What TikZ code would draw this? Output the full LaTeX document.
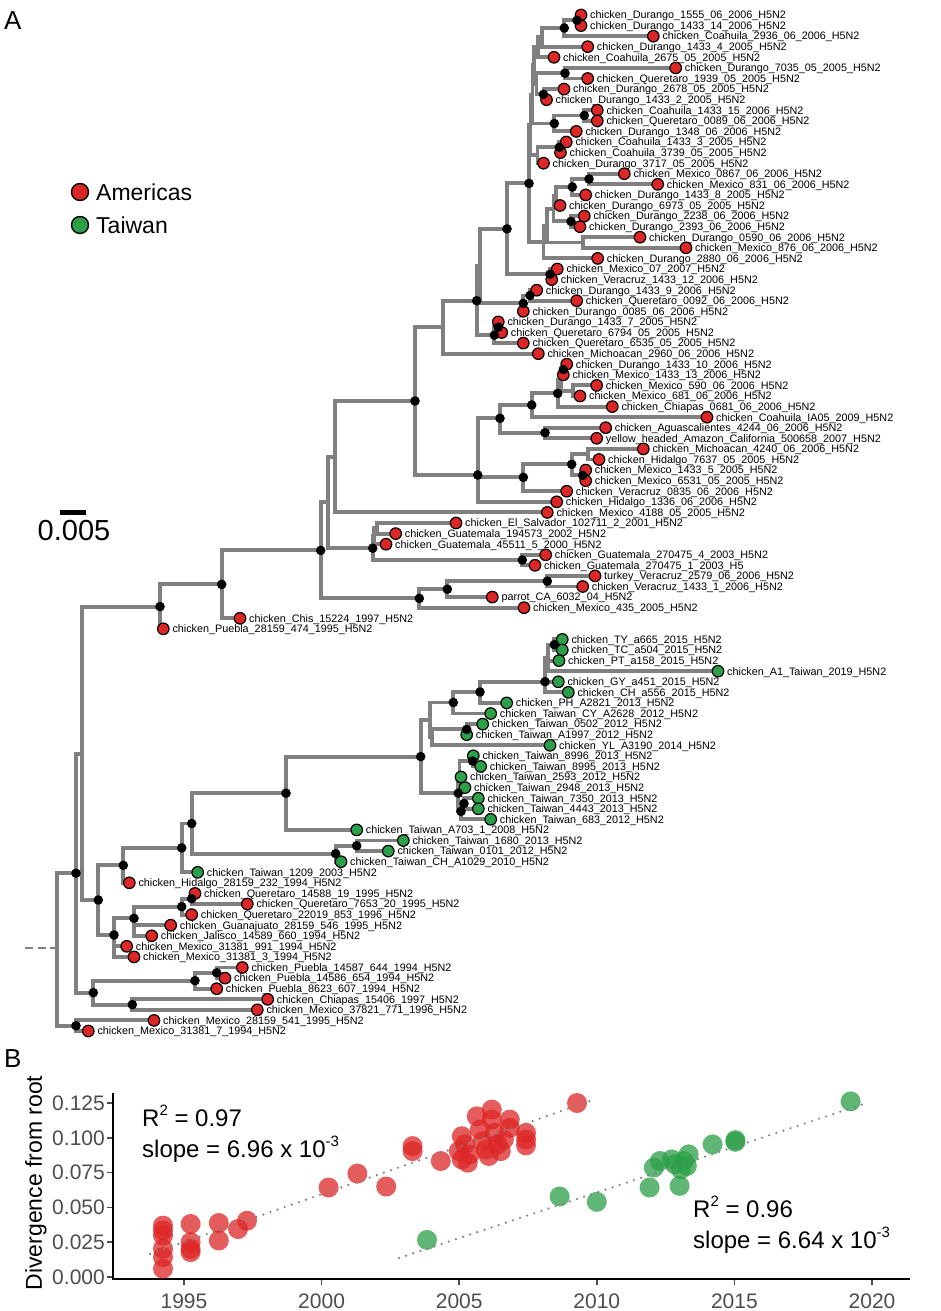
\documentclass[tikz,border=0pt]{standalone}
\usepackage{fontspec}
\setmainfont{Liberation Sans}
\usetikzlibrary{backgrounds}
\definecolor{amr}{RGB}{221,38,38}
\definecolor{twn}{RGB}{44,160,72}
\definecolor{brc}{RGB}{128,128,128}
\definecolor{tickc}{RGB}{77,77,77}
\tikzset{
 branch/.style={draw=brc, line width=3.9pt, line join=miter},
 leafR/.style={circle, draw=black, fill=amr, line width=1.2pt, minimum size=11.5pt, inner sep=0pt},
 leafG/.style={leafR, fill=twn},
 lab/.style={anchor=base west, inner sep=0pt, font=\fontsize{10.8}{12}\selectfont},
 ptR/.style={fill=amr, fill opacity=0.75},
 ptG/.style={fill=twn, fill opacity=0.75},
 regline/.style={draw=brc, line width=2.4pt, line cap=round, dash pattern=on 0pt off 7.5pt},
 ticklab/.style={text=tickc, font=\fontsize{21}{24}\selectfont, inner sep=0pt},
 annot/.style={anchor=base west, inner sep=0pt, font=\fontsize{24}{28}\selectfont}
}
\newcommand\LR[4]{\node[leafR] (#1) at (#2,#3) {}; \node[lab] (#1t) at (#2+9,#3+3.8) {#4};}
\newcommand\LG[4]{\node[leafG] (#1) at (#2,#3) {}; \node[lab] (#1t) at (#2+9,#3+3.8) {#4};}
\newcommand\brs[2]{\foreach \c in {#2} {\draw[branch] (#1) |- (\c.center);}}
\newcommand\supx[1]{\raisebox{0.42em}{\fontsize{15}{15}\selectfont #1}}
\begin{document}
\begin{tikzpicture}[x=1pt,y=-1pt]
\useasboundingbox (0,0) rectangle (941,1311);
% ---------- leaves ----------
\LR{L1}{581}{15.0}{chicken\_Durango\_1555\_06\_2006\_H5N2}
\LR{L2}{581}{25.6}{chicken\_Durango\_1433\_14\_2006\_H5N2}
\LR{L3}{653.3}{36.2}{chicken\_Coahuila\_2936\_06\_2006\_H5N2}
\LR{L4}{587.7}{46.7}{chicken\_Durango\_1433\_4\_2005\_H5N2}
\LR{L5}{554}{57.3}{chicken\_Coahuila\_2675\_05\_2005\_H5N2}
\LR{L6}{675.7}{67.9}{chicken\_Durango\_7035\_05\_2005\_H5N2}
\LR{L7}{587.7}{78.5}{chicken\_Queretaro\_1939\_05\_2005\_H5N2}
\LR{L8}{564}{89.1}{chicken\_Durango\_2678\_05\_2005\_H5N2}
\LR{L9}{546.5}{99.7}{chicken\_Durango\_1433\_2\_2005\_H5N2}
\LR{L10}{597.3}{110.2}{chicken\_Coahuila\_1433\_15\_2006\_H5N2}
\LR{L11}{597.3}{120.8}{chicken\_Queretaro\_0089\_06\_2006\_H5N2}
\LR{L12}{576.3}{131.4}{chicken\_Durango\_1348\_06\_2006\_H5N2}
\LR{L13}{566.3}{142.0}{chicken\_Coahuila\_1433\_3\_2005\_H5N2}
\LR{L14}{560.5}{152.6}{chicken\_Coahuila\_3739\_05\_2005\_H5N2}
\LR{L15}{543.5}{163.2}{chicken\_Durango\_3717\_05\_2005\_H5N2}
\LR{L16}{624.3}{173.7}{chicken\_Mexico\_0867\_06\_2006\_H5N2}
\LR{L17}{657.7}{184.3}{chicken\_Mexico\_831\_06\_2006\_H5N2}
\LR{L18}{585.7}{194.9}{chicken\_Durango\_1433\_8\_2005\_H5N2}
\LR{L19}{560}{205.5}{chicken\_Durango\_6973\_05\_2005\_H5N2}
\LR{L20}{584.3}{216.1}{chicken\_Durango\_2238\_06\_2006\_H5N2}
\LR{L21}{580}{226.7}{chicken\_Durango\_2393\_06\_2006\_H5N2}
\LR{L22}{640}{237.2}{chicken\_Durango\_0590\_06\_2006\_H5N2}
\LR{L23}{686}{247.8}{chicken\_Mexico\_876\_06\_2006\_H5N2}
\LR{L24}{597.7}{258.4}{chicken\_Durango\_2880\_06\_2006\_H5N2}
\LR{L25}{557.3}{269.0}{chicken\_Mexico\_07\_2007\_H5N2}
\LR{L26}{551.7}{279.6}{chicken\_Veracruz\_1433\_12\_2006\_H5N2}
\LR{L27}{536.7}{290.2}{chicken\_Durango\_1433\_9\_2006\_H5N2}
\LR{L28}{576.7}{300.7}{chicken\_Queretaro\_0092\_06\_2006\_H5N2}
\LR{L29}{523.3}{311.3}{chicken\_Durango\_0085\_06\_2006\_H5N2}
\LR{L30}{498.3}{321.9}{chicken\_Durango\_1433\_7\_2005\_H5N2}
\LR{L31}{501.7}{332.5}{chicken\_Queretaro\_6794\_05\_2005\_H5N2}
\LR{L32}{523.3}{343.1}{chicken\_Queretaro\_6535\_05\_2005\_H5N2}
\LR{L33}{538.3}{353.7}{chicken\_Michoacan\_2960\_06\_2006\_H5N2}
\LR{L34}{566.7}{364.2}{chicken\_Durango\_1433\_10\_2006\_H5N2}
\LR{L35}{563.3}{374.8}{chicken\_Mexico\_1433\_13\_2006\_H5N2}
\LR{L36}{596.7}{385.4}{chicken\_Mexico\_590\_06\_2006\_H5N2}
\LR{L37}{580}{396.0}{chicken\_Mexico\_681\_06\_2006\_H5N2}
\LR{L38}{612.3}{406.6}{chicken\_Chiapas\_0681\_06\_2006\_H5N2}
\LR{L39}{707}{417.2}{chicken\_Coahuila\_IA05\_2009\_H5N2}
\LR{L40}{605.7}{427.7}{chicken\_Aguascalientes\_4244\_06\_2006\_H5N2}
\LR{L41}{596.7}{438.3}{yellow\_headed\_Amazon\_California\_500658\_2007\_H5N2}
\LR{L42}{643.3}{448.9}{chicken\_Michoacan\_4240\_06\_2006\_H5N2}
\LR{L43}{599}{459.5}{chicken\_Hidalgo\_7637\_05\_2005\_H5N2}
\LR{L44}{585.7}{470.1}{chicken\_Mexico\_1433\_5\_2005\_H5N2}
\LR{L45}{585.7}{480.7}{chicken\_Mexico\_6531\_05\_2005\_H5N2}
\LR{L46}{566.7}{491.2}{chicken\_Veracruz\_0835\_06\_2006\_H5N2}
\LR{L47}{556.7}{501.8}{chicken\_Hidalgo\_1336\_06\_2006\_H5N2}
\LR{L48}{547.3}{512.4}{chicken\_Mexico\_4188\_05\_2005\_H5N2}
\LR{L49}{456}{523.0}{chicken\_El\_Salvador\_102711\_2\_2001\_H5N2}
\LR{L50}{395.7}{533.6}{chicken\_Guatemala\_194573\_2002\_H5N2}
\LR{L51}{386}{544.2}{chicken\_Guatemala\_45511\_5\_2000\_H5N2}
\LR{L52}{545.7}{554.8}{chicken\_Guatemala\_270475\_4\_2003\_H5N2}
\LR{L53}{535}{565.3}{chicken\_Guatemala\_270475\_1\_2003\_H5}
\LR{L54}{595}{575.9}{turkey\_Veracruz\_2579\_06\_2006\_H5N2}
\LR{L55}{582.7}{586.5}{chicken\_Veracruz\_1433\_1\_2006\_H5N2}
\LR{L56}{492.3}{597.1}{parrot\_CA\_6032\_04\_H5N2}
\LR{L57}{524}{607.7}{chicken\_Mexico\_435\_2005\_H5N2}
\LR{L58}{240}{618.3}{chicken\_Chis\_15224\_1997\_H5N2}
\LR{L59}{163.3}{628.8}{chicken\_Puebla\_28159\_474\_1995\_H5N2}
\LG{L60}{562.3}{639.4}{chicken\_TY\_a665\_2015\_H5N2}
\LG{L61}{562.3}{650.0}{chicken\_TC\_a504\_2015\_H5N2}
\LG{L62}{559}{660.6}{chicken\_PT\_a158\_2015\_H5N2}
\LG{L63}{718}{671.2}{chicken\_A1\_Taiwan\_2019\_H5N2}
\LG{L64}{558.3}{681.8}{chicken\_GY\_a451\_2015\_H5N2}
\LG{L65}{568.3}{692.3}{chicken\_CH\_a556\_2015\_H5N2}
\LG{L66}{506.7}{702.9}{chicken\_PH\_A2821\_2013\_H5N2}
\LG{L67}{490.7}{713.5}{chicken\_Taiwan\_CY\_A2628\_2012\_H5N2}
\LG{L68}{482.7}{724.1}{chicken\_Taiwan\_0502\_2012\_H5N2}
\LG{L69}{466.7}{734.7}{chicken\_Taiwan\_A1997\_2012\_H5N2}
\LG{L70}{550}{745.3}{chicken\_YL\_A3190\_2014\_H5N2}
\LG{L71}{473.3}{755.8}{chicken\_Taiwan\_8996\_2013\_H5N2}
\LG{L72}{480.7}{766.4}{chicken\_Taiwan\_8995\_2013\_H5N2}
\LG{L73}{461}{777.0}{chicken\_Taiwan\_2593\_2012\_H5N2}
\LG{L74}{465}{787.6}{chicken\_Taiwan\_2948\_2013\_H5N2}
\LG{L75}{478.3}{798.2}{chicken\_Taiwan\_7350\_2013\_H5N2}
\LG{L76}{478.3}{808.8}{chicken\_Taiwan\_4443\_2013\_H5N2}
\LG{L77}{490.7}{819.3}{chicken\_Taiwan\_683\_2012\_H5N2}
\LG{L78}{356.7}{829.9}{chicken\_Taiwan\_A703\_1\_2008\_H5N2}
\LG{L79}{403.3}{840.5}{chicken\_Taiwan\_1680\_2013\_H5N2}
\LG{L80}{388.3}{851.1}{chicken\_Taiwan\_0101\_2012\_H5N2}
\LG{L81}{341}{861.7}{chicken\_Taiwan\_CH\_A1029\_2010\_H5N2}
\LG{L82}{197.7}{872.3}{chicken\_Taiwan\_1209\_2003\_H5N2}
\LR{L83}{129.3}{882.8}{chicken\_Hidalgo\_28159\_232\_1994\_H5N2}
\LR{L84}{195}{893.4}{chicken\_Queretaro\_14588\_19\_1995\_H5N2}
\LR{L85}{247.3}{904.0}{chicken\_Queretaro\_7653\_20\_1995\_H5N2}
\LR{L86}{191.7}{914.6}{chicken\_Queretaro\_22019\_853\_1996\_H5N2}
\LR{L87}{170.7}{925.2}{chicken\_Guanajuato\_28159\_546\_1995\_H5N2}
\LR{L88}{151.7}{935.8}{chicken\_Jalisco\_14589\_660\_1994\_H5N2}
\LR{L89}{126.7}{946.3}{chicken\_Mexico\_31381\_991\_1994\_H5N2}
\LR{L90}{134}{956.9}{chicken\_Mexico\_31381\_3\_1994\_H5N2}
\LR{L91}{242.3}{967.5}{chicken\_Puebla\_14587\_644\_1994\_H5N2}
\LR{L92}{225}{978.1}{chicken\_Puebla\_14586\_654\_1994\_H5N2}
\LR{L93}{216.7}{988.7}{chicken\_Puebla\_8623\_607\_1994\_H5N2}
\LR{L94}{267.7}{999.3}{chicken\_Chiapas\_15406\_1997\_H5N2}
\LR{L95}{257.3}{1009.8}{chicken\_Mexico\_37821\_771\_1996\_H5N2}
\LR{L96}{154}{1020.4}{chicken\_Mexico\_28159\_541\_1995\_H5N2}
\LR{L97}{88.3}{1031.0}{chicken\_Mexico\_31381\_7\_1994\_H5N2}
% ---------- internal nodes ----------
\foreach \n/\x/\y in {A1/577/20.3, A2/564.3/28, A3/541.7/37.3, A4/538.3/47, B1/565/73.2, B2/543.5/94.4,
 B3/536.5/83.8, H1/534.3/65.4, C1/584.3/115.5, C2/554.3/123.5, H0/532.5/94.5, C3/559.3/147.3,
 H3/537.5/155.2, G/530.5/124.8, D1/589/179, D2/572.3/187, D3/556/196, D4/571/221.4, D5/553.5/208.7,
 E1/582.7/242.5, D6/546.7/225.6, D7/543.5/242, F/529/183.4, I1/550/274.3, J/507/228.9,
 I2/530/295.5, I3/523.3/303.4, K0a/480/266.2, I4/498.3/327.2, I5/494.3/335.2, K0/476.7/300.7,
 M/443.3/327.2, N1/563.3/369.5, N2/573.3/390.7, N3/561/380.1, N4/557.7/393.4, N5/531.7/405,
 N7/545/432.7, N6/500/418.3, N8/588.3/454.2, N9/582.7/475.4, N10/571.7/464.3, N11/523.3/477.3,
 P/477.7/475, Y0/415/401, X3/335/456.6, GT1/377/528.3, GT2/374/536.3, GT3/522.3/560,
 GT/372.7/548.2, X1/328.3/502.4, X5/547.3/581.2, X4/447.3/589.2, X2/419.3/598.4, W/320.7/550.4,
 U1/221.7/584.4, U/160/606.6,
 TWg/554.3/644.7, TWh/548/658, TWf/545/681.7, TWe/480/692, TWa/453.3/702.5, TWc/466.7/729.4,
 TWb1/432/737.3, TWb/430/720, TWi/472.7/761.1, TWd1/459.5/775, TWj/464/803.5, TWk/461/811.4,
 TWd/458.3/793.2, TW0/420.7/756.6, T1c/286/793.2, T1e/356.7/845.8, T1d/335.7/853.7,
 T1b/191.7/823.5, T1a/181.7/847.9, T1/123.3/865.3, T5/191.7/898.7, T4/181.7/906.7,
 T3/134/918.3, T2/114/935, T/98.3/900, S/81.7/753.8, V1a/216.7/972.8, V1/195/980.7,
 V2/132.3/1004.6, V/93.3/992.7, Rt/76/873.2, Rb/76/1025.7, R/57.3/948}
 {\coordinate (\n) at (\x,\y);}
\coordinate (root0) at (25,948);
% ---------- branches ----------
\begin{scope}[on background layer]
\fill[white] (0,0) rectangle (941,1311);
\brs{A1}{L1,L2} \brs{A2}{A1,L3} \brs{A3}{A2,L4} \brs{A4}{A3,L5}
\brs{B1}{L6,L7} \brs{B2}{L8,L9} \brs{B3}{B1,B2} \brs{H1}{A4,B3}
\brs{C1}{L10,L11} \brs{C2}{C1,L12} \brs{H0}{H1,C2} \brs{C3}{L13,L14} \brs{H3}{C3,L15} \brs{G}{H0,H3}
\brs{D1}{L16,L17} \brs{D2}{D1,L18} \brs{D3}{D2,L19} \brs{D4}{L20,L21} \brs{D5}{D3,D4}
\brs{E1}{L22,L23} \brs{D6}{D5,E1} \brs{D7}{D6,L24} \brs{F}{G,D7}
\brs{I1}{L25,L26} \brs{J}{F,I1} \brs{I2}{L27,L28} \brs{I3}{I2,L29} \brs{K0a}{J,I3}
\brs{I4}{L30,L31} \brs{I5}{I4,L32} \brs{K0}{K0a,I5} \brs{M}{K0,L33}
\brs{N1}{L34,L35} \brs{N2}{L36,L37} \brs{N3}{N1,N2} \brs{N4}{N3,L38} \brs{N5}{N4,L39}
\brs{N7}{L40,L41} \brs{N6}{N5,N7} \brs{N8}{L42,L43} \brs{N9}{L44,L45} \brs{N10}{N8,N9}
\brs{N11}{N10,L46} \brs{P}{N6,N11,L47} \brs{Y0}{M,P} \brs{X3}{Y0,L48}
\brs{GT1}{L49,L50} \brs{GT2}{GT1,L51} \brs{GT3}{L52,L53} \brs{GT}{GT2,GT3} \brs{X1}{X3,GT}
\brs{X5}{L54,L55} \brs{X4}{X5,L56} \brs{X2}{X4,L57} \brs{W}{X1,X2} \brs{U1}{W,L58} \brs{U}{U1,L59}
\brs{TWg}{L60,L61} \brs{TWh}{TWg,L62,L63} \brs{TWf}{TWh,L64,L65} \brs{TWe}{TWf,L66}
\brs{TWa}{TWe,L67} \brs{TWc}{L68,L69} \brs{TWb1}{TWc,L70} \brs{TWb}{TWa,TWb1}
\brs{TWi}{L71,L72} \brs{TWd1}{TWi,L73,L74} \brs{TWj}{L75,L76} \brs{TWk}{TWj,L77}
\brs{TWd}{TWd1,TWk} \brs{TW0}{TWb,TWd} \brs{T1c}{TW0,L78}
\brs{T1e}{L79,L80} \brs{T1d}{T1e,L81} \brs{T1b}{T1c,T1d} \brs{T1a}{T1b,L82} \brs{T1}{T1a,L83}
\brs{T5}{L84,L85} \brs{T4}{T5,L86} \brs{T3}{T4,L87,L88} \brs{T2}{T3,L89,L90} \brs{T}{T1,T2}
\brs{S}{U,T} \brs{V1a}{L91,L92} \brs{V1}{V1a,L93} \brs{V2}{L94,L95} \brs{V}{V1,V2}
\brs{Rt}{S,V} \brs{Rb}{L96,L97} \brs{R}{Rt,Rb}
\draw[draw=brc, line width=2.6pt, dash pattern=on 8pt off 4.5pt] (root0) -- (R);
\end{scope}
% ---------- node dots ----------
\foreach \n in {A1,A2,B1,B2,C1,C2,C3,D1,D2,D4,F,J,I1,I2,I3,I4,I5,K0,Y0,N1,N4,N5,N6,N7,N9,N10,N11,P,
 W,GT,GT3,X2,X4,X5,U1,U,Rt,Rb,V,V1,V1a,V2,T,T1,T1a,T1b,T1c,T1d,T1e,T2,T3,T4,T5,
 TW0,TWa,TWe,TWf,TWg,TWc,TWi,TWj,TWk,TWd}
 {\fill[black] (\n) circle (4.8);}
% ---------- panel labels, legend, scale ----------
\node[anchor=base west, inner sep=0pt, font=\fontsize{26}{30}\selectfont] (pa) at (4,30) {A};
\node[anchor=base west, inner sep=0pt, font=\fontsize{26}{30}\selectfont] (pb) at (4,1067) {B};
\node[circle, draw=black, fill=amr, line width=1.4pt, minimum size=17pt, inner sep=0pt] (lgr) at (80,192) {};
\node[anchor=base west, inner sep=0pt, font=\fontsize{23}{26}\selectfont] (lgrt) at (96,200) {Americas};
\node[circle, draw=black, fill=twn, line width=1.4pt, minimum size=17pt, inner sep=0pt] (lgg) at (80,225) {};
\node[anchor=base west, inner sep=0pt, font=\fontsize{23}{26}\selectfont] (lggt) at (96,233) {Taiwan};
\fill[black] (60,509.5) rectangle (86,514.5);
\node[anchor=base, inner sep=0pt, font=\fontsize{29}{32}\selectfont] (sc) at (74,540) {0.005};
% ---------- panel B ----------
\coordinate (yax0) at (113,1279); \coordinate (yax1) at (113,1093);
\coordinate (xax1) at (910,1279);
\draw[line width=2.2pt] (yax1) -- (yax0) -- (xax1);
\foreach \v/\t in {0/0.000,1/0.025,2/0.050,3/0.075,4/0.100,5/0.125}{
 \draw[line width=1.5pt, tickc] (107,1277-34.8*\v) -- (112,1277-34.8*\v);
 \node[ticklab, anchor=east] at (105,1277-34.8*\v) {\t};}
\foreach \k/\t in {0/1995,1/2000,2/2005,3/2010,4/2015,5/2020}{
 \draw[line width=1.5pt, tickc] (184+137.6*\k,1280) -- (184+137.6*\k,1285);
 \node[ticklab, anchor=base] at (184+137.6*\k,1308) {\t};}
\node[rotate=90, inner sep=0pt, font=\fontsize{23}{26}\selectfont] (ylab) at (36,1183) {Divergence from root};
\foreach \x/\y in {163/1268.7,163/1257.1,163/1248.8,163/1235.6,163/1230.6,163/1225.6,
 190.6/1224,190.6/1242.2,190.6/1248.8,190.6/1252.1,218.8/1223,218.8/1240.5,238/1229,247/1220.7,
 328.6/1187.5,357.4/1173.6,386.2/1186.5,412.6/1146.1,412.6/1151.1,440.8/1161,
 461.8/1136.2,464.8/1144.4,458.8/1151.1,461.8/1159.4,467.8/1162.7,469.6/1154.4,476.8/1116.3,
 479.8/1129.5,482.8/1141.1,485.8/1149.4,488.8/1156,491.8/1109.6,491.8/1119.6,494.8/1132.8,
 497.8/1144.4,500.8/1151.1,503.8/1139.5,509.8/1119.6,509.8/1127.9,526/1132.8,526/1139.5,
 526/1145.4,577/1103}
 {\fill[ptR] (\x,\y) circle (10);}
\foreach \x/\y in {427/1239.9,559.6/1196.5,596.8/1201.8,649.6/1187.5,653.8/1167.6,659.8/1161,
 671.8/1159.4,674.8/1164.3,680.8/1169.3,683.8/1161,686.8/1166,679.6/1185.9,688.6/1154.4,
 712.6/1144.4,735.4/1140.1,735.4/1141.8,850.6/1101.4}
 {\fill[ptG] (\x,\y) circle (10);}
\coordinate (rl0) at (150,1253.8); \coordinate (rl1) at (594,1099.7);
\coordinate (gl0) at (399,1258.1); \coordinate (gl1) at (868.6,1102.3);
\draw[regline] (rl0) -- (rl1);
\draw[regline] (gl0) -- (gl1);
\node[annot] (r1) at (142,1126) {R\supx{2} = 0.97};
\node[annot] (s1) at (142,1157) {slope = 6.96 x 10\supx{-3}};
\node[annot] (r2) at (693,1217) {R\supx{2} = 0.96};
\node[annot] (s2) at (693,1248) {slope = 6.64 x 10\supx{-3}};
\end{tikzpicture}
\end{document}
